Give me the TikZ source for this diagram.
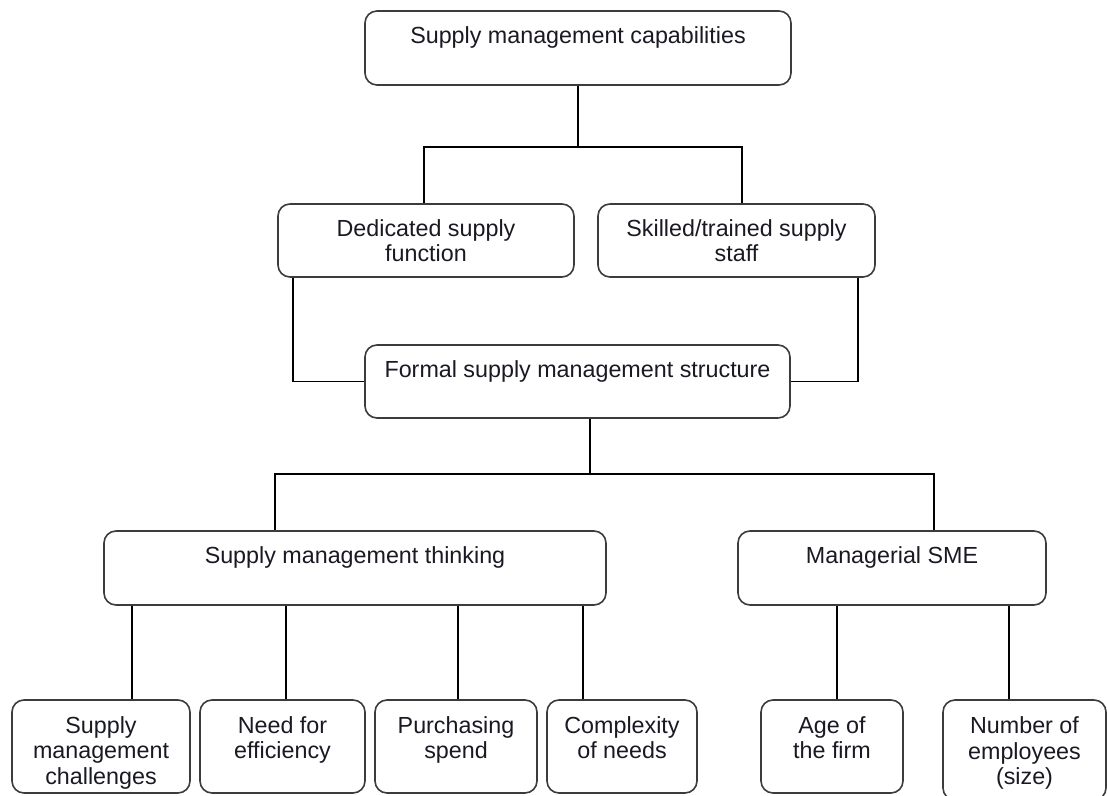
\documentclass[tikz,border=0pt]{standalone}
\usepackage{fontspec}
\setmainfont{Liberation Sans}
\usepackage{xcolor}
\usepackage{tikz}
\usetikzlibrary{positioning}
\definecolor{edge}{RGB}{60,60,60}
\definecolor{ink}{RGB}{25,25,35}
\newcommand{\topgap}{\rule{0pt}{12pt}}

\tikzset{
    box/.style={draw=edge, line width=0.8pt, rounded corners=6pt, align=center, text=ink,
        font=\fontsize{11.65}{12.75}\selectfont, inner sep=0pt},
    link/.style={draw=black, line width=0.75pt},
}

\begin{document}
\begin{tikzpicture}[x=0.5pt, y=-0.5pt]
            \useasboundingbox (0,0) rectangle (1107,796);

            % top levels
            \node (cap) [box, minimum width=213pt, minimum height=37pt] at (578,48) {Supply management capabilities\\~};
            \node (ded) [box, minimum width=148pt, minimum height=36.5pt] at (426,240.5) {Dedicated supply\\function};
            \node (skill) [box, minimum width=138.5pt, minimum height=36.5pt] at (736.5,240.5) {Skilled/trained supply\\staff};
            \node (formal) [box, minimum width=212.5pt, minimum height=36.5pt] at (577.5,381.5) {Formal supply management structure\\~};

            % middle level
            \node (think) [box, minimum width=251pt, minimum height=37pt] at (355,568) {Supply management thinking\\~};
            \node (mgr) [box, minimum width=154pt, minimum height=37pt] at (892,568) {Managerial SME\\~};

            % bottom level
            \node (chal) [box, minimum width=89pt, minimum height=46.5pt] at (101,746.5) {\rule{0pt}{14.5pt}Supply\\management\\challenges};
            \node (eff) [box, minimum width=82.5pt, minimum height=46.5pt] at (282.5,746.5) {\topgap Need for\\efficiency\\~};
            \node (spend) [box, minimum width=81pt, minimum height=46.5pt] at (456,746.5) {\topgap Purchasing\\spend\\~};
            \node (compl) [box, minimum width=75pt, minimum height=46.5pt] at (622,746.5) {\topgap Complexity\\of needs\\~};
            \node (age) [box, minimum width=71pt, minimum height=46.5pt] at (832,746.5) {\topgap Age of\\the firm\\~};
            \node (emp) [box, minimum width=81.5pt, minimum height=50pt] at (1024.5,750) {\rule{0pt}{11.5pt}Number of\\employees\\(size)};

            % connectors
            \draw[link] (cap.south) -- ++(0,61) coordinate (capjoin);
            \draw[link] ([xshift=-1pt]ded.north) |- (capjoin) -| ([xshift=2.75pt]skill.north);
            \draw[link] ([xshift=-66.5pt]ded.south) |- (formal.west);
            \draw[link] ([xshift=60.75pt]skill.south) |- (formal.east);

            \draw[link] ([xshift=6.25pt]formal.south) -- ++(0,55) coordinate (formjoin);
            \draw[link] ([xshift=-40pt]think.north) |- (formjoin) -| ([xshift=21pt]mgr.north);

            \draw[link] ([xshift=15.5pt]chal.north) -- ([xshift=15.5pt]chal.north |- think.south);
            \draw[link] ([xshift=1.75pt]eff.north) -- ([xshift=1.75pt]eff.north |- think.south);
            \draw[link] ([xshift=1pt]spend.north) -- ([xshift=1pt]spend.north |- think.south);
            \draw[link] ([xshift=-19.5pt]compl.north) -- ([xshift=-19.5pt]compl.north |- think.south);
            \draw[link] ([xshift=2.5pt]age.north) -- ([xshift=2.5pt]age.north |- mgr.south);
            \draw[link] ([xshift=-7.75pt]emp.north) -- ([xshift=-7.75pt]emp.north |- mgr.south);
\end{tikzpicture}
\end{document}
